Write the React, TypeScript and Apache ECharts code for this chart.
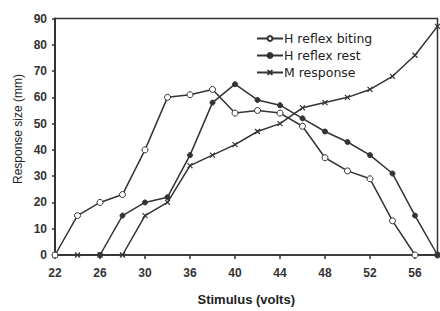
import React, { useEffect, useRef } from "react";
import * as echarts from "echarts";

const categories = ["22", "24", "26", "28", "30", "33", "36", "38", "40", "42", "44", "46", "48", "50", "52", "54", "56", "58"];
const hReflexBiting = [0, 15, 20, 23, 40, 60, 61, 63, 54, 55, 54, 49, 37, 32, 29, 13, 0, 0];
const hReflexRest = [null, null, 0, 15, 20, 22, 38, 58, 65, 59, 57, 52, 47, 43, 38, 31, 15, 0];
const mResponse = [0, 0, 0, 0, 15, 20, 34, 38, 42, 47, 50, 56, 58, 60, 63, 68, 76, 87];
const yTicks = { min: 0, max: 90, interval: 10 };

const INK = "#333";
const FONT = "Liberation Sans";

export default function App() {
  const ref = useRef<HTMLDivElement>(null);
  useEffect(() => {
    if (!ref.current) return;
    const chart = echarts.init(ref.current, null, { renderer: "svg" });
    const lineStyle = { color: INK, width: 1.5 };
    chart.setOption({
      animation: false,
      backgroundColor: "#fff",
      textStyle: { fontFamily: FONT },
      grid: {
        left: 55,
        right: 2.5,
        top: 18.5,
        bottom: 54,
        show: true,
        borderColor: INK,
        borderWidth: 1.5,
      },
      legend: {
        orient: "vertical",
        left: 251,
        top: 27,
        itemWidth: 26,
        itemHeight: 6,
        itemGap: 4,
        textStyle: { fontFamily: "DejaVu Sans", fontSize: 12.5, color: "#222", padding: [0, 0, 0, -4] },
        data: ["H reflex biting", "H reflex rest", "M response"],
      },
      graphic: [
        {
          type: "text",
          x: 18,
          y: 129,
          rotation: Math.PI / 2,
          style: {
            text: "Response size (mm)",
            fontFamily: FONT,
            fontSize: 12,
            fill: "#222",
            align: "center",
            verticalAlign: "middle",
          },
        },
      ],
      xAxis: {
        type: "category",
        data: categories,
        boundaryGap: false,
        name: "Stimulus (volts)",
        nameLocation: "middle",
        nameGap: 38,
        nameTextStyle: { fontFamily: FONT, fontSize: 13, fontWeight: "bold", color: "#222" },
        axisLine: { lineStyle: { color: INK, width: 1.5 } },
        axisTick: { interval: 1, length: 4, inside: false, lineStyle: { color: INK, width: 1.5 } },
        axisLabel: {
          interval: 1,
          margin: 12,
          fontFamily: FONT,
          fontSize: 12,
          fontWeight: "bold",
          color: "#333",
        },
        splitLine: { show: false },
      },
      yAxis: {
        type: "value",
        min: yTicks.min,
        max: yTicks.max,
        interval: yTicks.interval,
        axisLine: { show: true, lineStyle: { color: INK, width: 2 } },
        axisTick: { show: true, length: 3, lineStyle: { color: INK, width: 1.5 } },
        axisLabel: { margin: 8, fontFamily: FONT, fontSize: 12, fontWeight: "bold", color: "#333" },
        splitLine: { show: false },
      },
      series: [
        {
          name: "H reflex biting",
          type: "line",
          data: hReflexBiting,
          symbol: "circle",
          symbolSize: 6,
          showAllSymbol: true,
          lineStyle,
          itemStyle: { color: "#fff", borderColor: INK, borderWidth: 1 },
          z: 3,
        },
        {
          name: "H reflex rest",
          type: "line",
          data: hReflexRest,
          symbol: "circle",
          symbolSize: 5,
          showAllSymbol: true,
          lineStyle,
          itemStyle: { color: INK, borderColor: INK, borderWidth: 1 },
          z: 3,
        },
        {
          name: "M response",
          type: "line",
          data: mResponse,
          symbol: "path://M0,0L10,10M10,0L0,10",
          symbolSize: 5,
          showAllSymbol: true,
          lineStyle,
          itemStyle: { color: "none", borderColor: INK, borderWidth: 1.2 },
          z: 2,
        },
      ],
    });
    return () => chart.dispose();
  }, []);
  return (
    <div
      ref={ref}
      style={{ position: "fixed", left: 0, top: 0, width: 440, height: 311, background: "#fff" }}
    />
  );
}
